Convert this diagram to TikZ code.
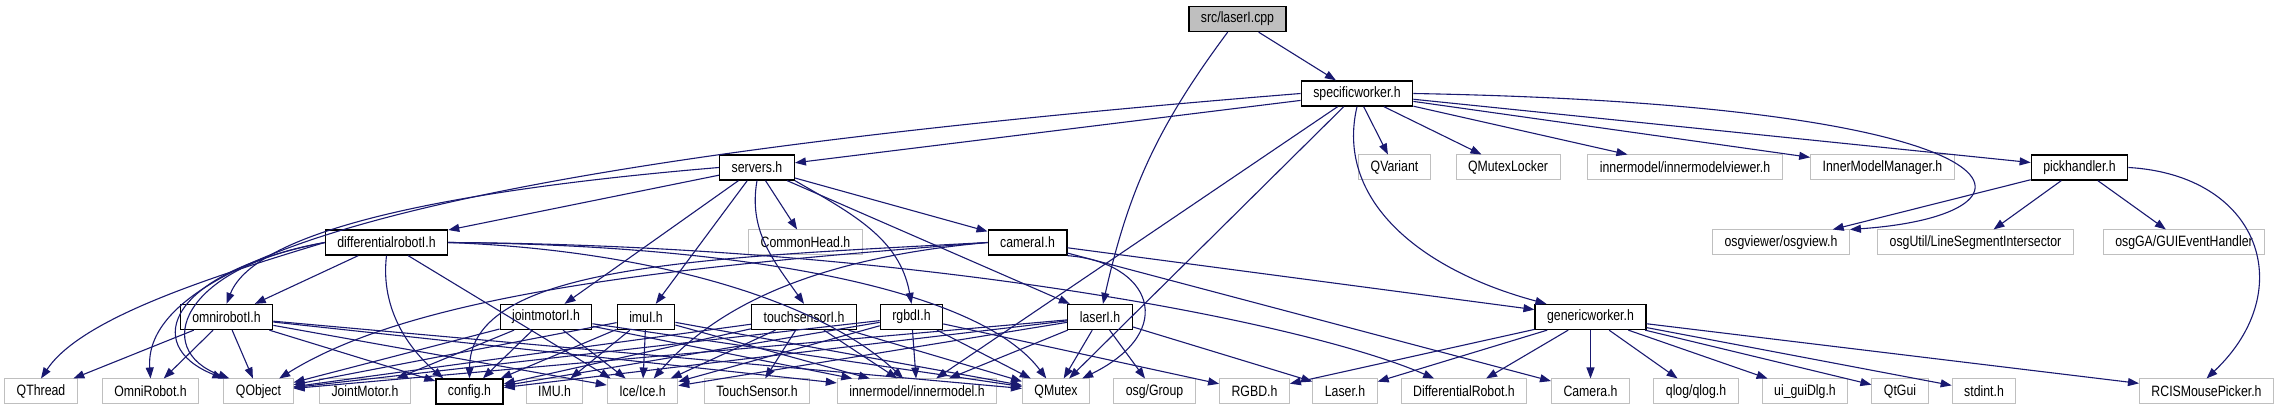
\documentclass[tikz,border=0pt]{standalone}
\usepackage{fontspec}
\newfontfamily\dotfont[FakeStretch=0.82]{Liberation Sans}
\usetikzlibrary{arrows.meta}
\definecolor{edgeblue}{HTML}{191970}
\definecolor{extgray}{HTML}{BFBFBF}
\tikzset{
  incarrow/.style={-{Triangle[length=11pt, width=8pt]}, line width=1.1pt, edgeblue},
  docnode/.style={draw=black, line width=1.3pt, fill=white, minimum height=25pt, inner xsep=12pt, inner ysep=0pt, font={\dotfont\fontsize{15pt}{17pt}\selectfont}},
  extnode/.style={docnode, draw=extgray, line width=1pt},
  rootnode/.style={docnode, fill=extgray}
}
\begin{document}
\begin{tikzpicture}[x=1pt, y=-1pt]
  \useasboundingbox (0,0) rectangle (2295,411);
  % top rows
  \node[rootnode] (cpp) at (1237.5,19) {src/laserI.cpp};
  \node[docnode] (sworker) at (1357,93.5) {specificworker.h};
  \node[docnode] (servers) at (757,167.5) {servers.h};
  \node[extnode] (qvariant) at (1394.5,167.5) {QVariant};
  \node[extnode] (qmlocker) at (1508,167.5) {QMutexLocker};
  \node[extnode] (imviewer) at (1685,167.5) {innermodel/innermodelviewer.h};
  \node[extnode] (immanager) at (1882.5,167.5) {InnerModelManager.h};
  \node[docnode] (pickh) at (2079.5,167.5) {pickhandler.h};
  \node[docnode] (diffi) at (386.5,242.5) {differentialrobotI.h};
  \node[extnode] (commonh) at (805.5,242.5) {CommonHead.h};
  \node[docnode] (camerai) at (1027.5,242.5) {cameraI.h};
  \node[extnode] (osgview) at (1781,242.5) {osgviewer/osgview.h};
  \node[extnode] (lsinter) at (1975.5,242.5) {osgUtil/LineSegmentIntersector};
  \node[extnode] (guievh) at (2184,242.5) {osgGA/GUIEventHandler};
  \node[docnode] (omnii) at (226.5,317) {omnirobotI.h};
  \node[docnode] (jointi) at (546,317) {jointmotorI.h};
  \node[docnode] (imui) at (646,317) {imuI.h};
  \node[docnode] (touchi) at (804,317) {touchsensorI.h};
  \node[docnode] (rgbdi) at (911.5,317) {rgbdI.h};
  \node[docnode] (laseri) at (1100,317) {laserI.h};
  \node[docnode] (gworker) at (1590.5,317) {genericworker.h};
  % bottom row
  \node[extnode] (qthread) at (41,391.5) {QThread};
  \node[extnode] (omnirob) at (150.5,391.5) {OmniRobot.h};
  \node[extnode] (qobject) at (258.5,391.5) {QObject};
  \node[extnode] (jointmot) at (365,391.5) {JointMotor.h};
  \node[docnode] (config) at (469.5,391.5) {config.h};
  \node[extnode] (imu) at (554.5,391.5) {IMU.h};
  \node[extnode] (ice) at (642.5,391.5) {Ice/Ice.h};
  \node[extnode] (touchsen) at (757,391.5) {TouchSensor.h};
  \node[extnode] (innermod) at (917,391.5) {innermodel/innermodel.h};
  \node[extnode] (qmutex) at (1056,391.5) {QMutex};
  \node[extnode] (osggroup) at (1154.5,391.5) {osg/Group};
  \node[extnode] (rgbd) at (1254.5,391.5) {RGBD.h};
  \node[extnode] (laser) at (1345,391.5) {Laser.h};
  \node[extnode] (diffrob) at (1464,391.5) {DifferentialRobot.h};
  \node[extnode] (camera) at (1590.5,391.5) {Camera.h};
  \node[extnode] (qlog) at (1696,391.5) {qlog/qlog.h};
  \node[extnode] (uigui) at (1805,391.5) {ui\_guiDlg.h};
  \node[extnode] (qtgui) at (1900,391.5) {QtGui};
  \node[extnode] (stdint) at (1984,391.5) {stdint.h};
  \node[extnode] (rcismp) at (2206.5,391.5) {RCISMousePicker.h};
  % src/laserI.cpp
  \draw[incarrow] (cpp) -- (sworker);
  \draw[incarrow] (cpp) to[bend right=12] (laseri);
  % specificworker.h
  \draw[incarrow] (sworker) -- (servers);
  \draw[incarrow] (sworker.west) .. controls (600,150) and (140,230) .. (omnirob.north);
  \draw[incarrow] (sworker) -- (innermod);
  \draw[incarrow] (sworker) -- (qmutex);
  \draw[incarrow] (sworker.south) .. controls (1335,200) and (1420,270) .. ([xshift=12pt]gworker.north west);
  \draw[incarrow] (sworker) -- (qvariant);
  \draw[incarrow] (sworker) -- (qmlocker);
  \draw[incarrow] (sworker) -- (imviewer);
  \draw[incarrow] (sworker) -- (immanager);
  \draw[incarrow] (sworker) -- (pickh);
  \draw[incarrow] (sworker.east) .. controls (2050,105) and (2060,215) .. (osgview.north east);
  % servers.h
  \draw[incarrow] (servers) -- (diffi);
  \draw[incarrow] (servers.west) .. controls (450,190) and (255,230) .. (omnii.north);
  \draw[incarrow] (servers) -- (jointi);
  \draw[incarrow] (servers) -- (imui);
  \draw[incarrow] (servers.south) to[out=-100, in=125] (touchi.north);
  \draw[incarrow] (servers) -- (commonh);
  \draw[incarrow] (servers.south east) to[out=-30, in=100] (rgbdi.north);
  \draw[incarrow] (servers) -- (laseri);
  \draw[incarrow] (servers) -- (camerai);
  % differentialrobotI.h
  \draw[incarrow] (diffi.west) .. controls (200,280) and (80,320) .. (qthread.north);
  \draw[incarrow] (diffi.west) .. controls (170,272) and (140,345) .. (qobject.north west);
  \draw[incarrow] (diffi.west) .. controls (180,268) and (152,350) .. ([xshift=6pt]qobject.north west);
  \draw[incarrow] (diffi) -- (omnii);
  \draw[incarrow] (diffi.south) .. controls (380,310) and (410,350) .. ([xshift=8pt]config.north west);
  \draw[incarrow] (diffi) -- ([xshift=4pt]ice.north west);
  \draw[incarrow] (diffi.east) .. controls (650,250) and (820,300) .. (innermod);
  \draw[incarrow] (diffi.east) .. controls (750,245) and (980,290) .. (qmutex);
  \draw[incarrow] (diffi.east) .. controls (900,245) and (1300,320) .. (diffrob);
  % omnirobotI.h
  \draw[incarrow] (omnii) -- (qthread);
  \draw[incarrow] (omnii) -- (omnirob);
  \draw[incarrow] (omnii) -- (qobject);
  \draw[incarrow] (omnii) -- (config);
  \draw[incarrow] (omnii) -- (ice);
  \draw[incarrow] (omnii) -- (innermod);
  \draw[incarrow] (omnii) -- (qmutex);
  % jointmotorI.h
  \draw[incarrow] (jointi) -- (qobject);
  \draw[incarrow] (jointi) -- (jointmot);
  \draw[incarrow] (jointi) -- (config);
  \draw[incarrow] (jointi) -- (ice);
  \draw[incarrow] (jointi) -- (innermod);
  \draw[incarrow] (jointi) -- (qmutex);
  % imuI.h
  \draw[incarrow] (imui) -- (qobject);
  \draw[incarrow] (imui) -- (config);
  \draw[incarrow] (imui) -- (imu);
  \draw[incarrow] (imui) -- (ice);
  \draw[incarrow] (imui) -- (innermod);
  \draw[incarrow] (imui) -- (qmutex);
  % touchsensorI.h
  \draw[incarrow] (touchi) -- (qobject);
  \draw[incarrow] (touchi) -- (config);
  \draw[incarrow] (touchi) -- (ice);
  \draw[incarrow] (touchi) -- (touchsen);
  \draw[incarrow] (touchi) -- (innermod);
  \draw[incarrow] (touchi) -- (qmutex);
  % rgbdI.h
  \draw[incarrow] (rgbdi) -- (qobject);
  \draw[incarrow] (rgbdi) -- (config);
  \draw[incarrow] (rgbdi) -- (ice);
  \draw[incarrow] (rgbdi) -- (innermod);
  \draw[incarrow] (rgbdi) -- (qmutex);
  \draw[incarrow] (rgbdi) -- (rgbd);
  % laserI.h
  \draw[incarrow] (laseri) -- (qobject);
  \draw[incarrow] (laseri) -- (config);
  \draw[incarrow] (laseri) -- (ice);
  \draw[incarrow] (laseri) -- (innermod);
  \draw[incarrow] (laseri) -- (qmutex);
  \draw[incarrow] (laseri) -- (osggroup);
  \draw[incarrow] (laseri) -- (laser);
  % cameraI.h
  \draw[incarrow] (camerai.west) .. controls (700,265) and (420,290) .. (qobject);
  \draw[incarrow] (camerai.west) .. controls (700,258) and (470,265) .. (config.north);
  \draw[incarrow] (camerai.west) .. controls (850,255) and (730,290) .. (ice);
  \draw[incarrow] (camerai.south east) .. controls (1150,262) and (1180,330) .. (qmutex);
  \draw[incarrow] (camerai) -- (gworker);
  \draw[incarrow] (camerai) -- (camera);
  % genericworker.h
  \draw[incarrow] (gworker) -- (rgbd);
  \draw[incarrow] (gworker) -- (laser);
  \draw[incarrow] (gworker) -- (diffrob);
  \draw[incarrow] (gworker) -- (camera);
  \draw[incarrow] (gworker) -- (qlog);
  \draw[incarrow] (gworker) -- (uigui);
  \draw[incarrow] (gworker) -- (qtgui);
  \draw[incarrow] (gworker) -- (stdint);
  \draw[incarrow] (gworker) -- (rcismp);
  % pickhandler.h
  \draw[incarrow] (pickh) -- (osgview);
  \draw[incarrow] (pickh) -- (lsinter);
  \draw[incarrow] (pickh) -- (guievh);
  \draw[incarrow] (pickh.east) .. controls (2260,175) and (2300,290) .. (rcismp.north);
\end{tikzpicture}
\end{document}
